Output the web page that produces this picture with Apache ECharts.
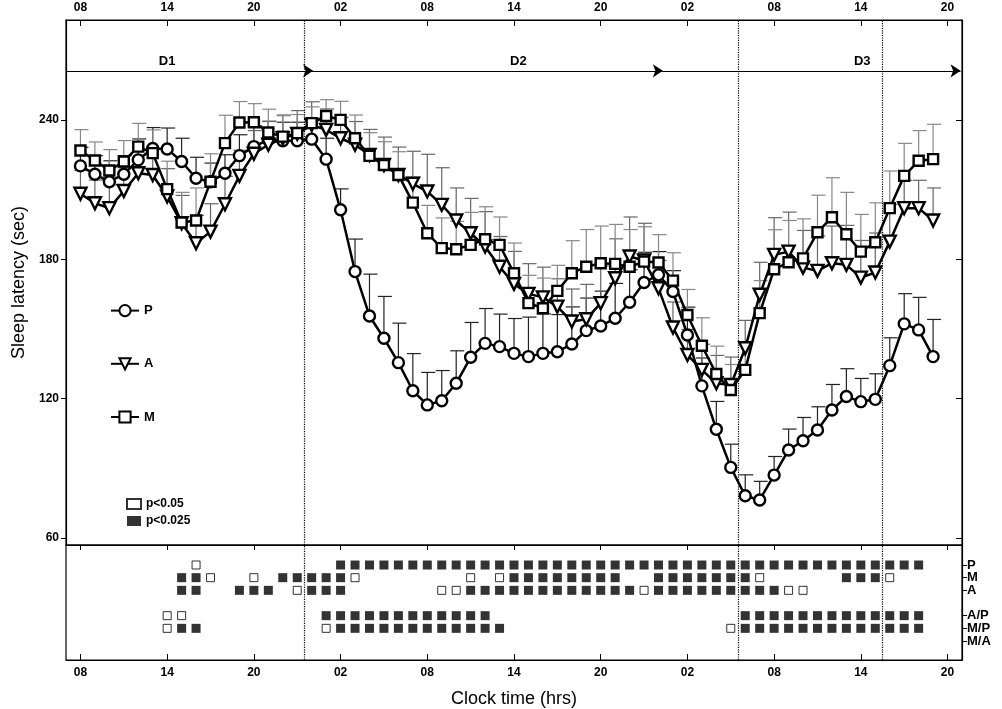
<!DOCTYPE html>
<html>
<head>
<meta charset="utf-8">
<script src="https://cdn.jsdelivr.net/npm/echarts@6/dist/echarts.min.js"></script>
<style>html,body{margin:0;padding:0;background:#fff}#main{width:1002px;height:709px}</style>
</head>
<body>
<div id="main"></div>
<script>
// hours counted from 08:00 on day 1
const tickHours = [0, 6, 12, 18, 24, 30, 36, 42, 48, 54, 60];
const tickLabels = ['08', '14', '20', '02', '08', '14', '20', '02', '08', '14', '20'];
const yTicks = [60, 120, 180, 240];

const P = [220.2, 216.6, 213.4, 216.6, 222.8, 227.7, 227.5, 222.1, 214.9, 213.4,
  217, 224.6, 228.5, 231.4, 231, 231, 231.7, 223.1, 201.3, 174.7,
  155.6, 146, 135.5, 123.4, 117.3, 119.1, 126.6, 137.8, 143.8, 142.4,
  139.5, 138.1, 139.5, 140.2, 143.5, 149.3, 151.3, 154.6, 161.5, 170,
  173.3, 166.1, 147.4, 125.5, 106.8, 90.4, 78.2, 76.4, 87.1, 97.9,
  101.9, 106.5, 115.1, 120.9, 118.7, 119.7, 134.2, 152.2, 149.6, 138.1];
const A = [208.2, 204.1, 202, 209.4, 217, 216.3, 207, 195.5, 186.9, 191.9,
  203.7, 215.9, 225.4, 229.3, 232.1, 234, 237.8, 235.7, 232.1, 229.3,
  224.9, 220.6, 216.3, 212.5, 209.2, 203.4, 196.7, 191.2, 185.5, 176.8,
  169.4, 165.1, 163.6, 159.6, 153.2, 154.2, 161.1, 171.8, 181.2, 179.5,
  167.5, 150.6, 138.8, 132.4, 126.6, 125.9, 141.7, 164.7, 181.9, 183.3,
  176.4, 175, 178.3, 177.6, 172.1, 174.3, 187.6, 202, 202, 196.7];
const M = [226.8, 222.5, 218.2, 222.1, 228.5, 225.7, 210.2, 195.8, 196.7, 213.4,
  230, 238.9, 239, 234.6, 232.8, 234.3, 238.6, 241.7, 240, 232.1,
  224.5, 220.6, 216.3, 204.4, 191.2, 184.8, 184.3, 186.2, 188.6, 186.2,
  174, 161.1, 158.9, 166.4, 174, 176.8, 178.3, 178, 176.8, 179,
  178.6, 170.8, 156, 142.8, 130.6, 123.7, 132.4, 156.8, 175.7, 178.7,
  180.4, 191.6, 198.1, 190.8, 183.3, 187.3, 202, 215.9, 222.4, 223.1];

// upper error (SE) for each series
const P_se = [8, 8, 9, 8, 9, 9, 9, 10, 9, 8, 8, 9, 9, 8, 8, 8, 8, 9, 9, 14,
  18, 18, 17, 16, 14, 13, 14, 15, 15, 14, 15, 17, 17, 16, 16, 14, 15, 15, 14, 13,
  10, 9, 12, 12, 12, 10, 9, 8, 8, 9, 10, 10, 11, 12, 10, 11, 12, 13, 14, 16];
const A_se = [10, 10, 10, 10, 10, 11, 12, 12, 12, 12, 12, 11, 10, 10, 10, 10, 10, 9, 9, 10,
  11, 12, 12, 14, 16, 16, 14, 15, 15, 13, 14, 13, 13, 12, 14, 15, 16, 17, 17, 16,
  12, 11, 11, 11, 12, 12, 12, 14, 16, 17, 16, 15, 16, 17, 16, 17, 16, 12, 12, 14];
const M_se = [9, 8, 9, 9, 10, 10, 12, 13, 14, 12, 12, 9, 8, 10, 9, 8, 7, 7, 8, 10,
  10, 10, 10, 11, 12, 13, 12, 14, 14, 12, 13, 12, 13, 11, 14, 16, 16, 17, 16, 15,
  12, 12, 11, 12, 12, 11, 12, 14, 17, 18, 17, 16, 17, 18, 16, 17, 16, 14, 13, 15];

// significance rows (bottom panel): hours with p<0.05 (open) and p<0.025 (filled)
const rowNames = ['M/A', 'M/P', 'A/P', '', 'A', 'M', 'P'];
const rowTicks = [0, 1, 2, 4, 5, 6];
const sigP_open = [8];
const sigP_fill = [18, 19, 20, 21, 22, 23, 24, 25, 26, 27, 28, 29, 30, 31, 32, 33, 34, 35, 36, 37, 38,
  39, 40, 41, 42, 43, 44, 45, 46, 47, 48, 49, 50, 51, 52, 53, 54, 55, 56, 57, 58];
const sigM_open = [9, 12, 19, 27, 29, 47, 56];
const sigM_fill = [7, 8, 14, 15, 16, 17, 18, 30, 31, 32, 33, 34, 35, 36, 37, 40, 41, 42, 43, 44, 45, 46, 53, 54, 55];
const sigA_open = [15, 25, 26, 39, 49, 50];
const sigA_fill = [7, 8, 11, 12, 13, 16, 17, 18, 27, 28, 29, 30, 31, 32, 33, 34, 35, 36, 37, 38,
  40, 41, 42, 43, 44, 45, 46, 47, 48];
const sigAP_open = [6, 7];
const sigAP_fill = [17, 18, 19, 20, 21, 22, 23, 24, 25, 26, 27, 28, 46, 47, 48, 49, 50, 51, 52, 53, 54, 55, 56, 57, 58];
const sigMP_open = [6, 17, 45];
const sigMP_fill = [7, 8, 18, 19, 20, 21, 22, 23, 24, 25, 26, 27, 28, 29, 46, 47, 48, 49, 50, 51, 52, 53, 54, 55, 56, 57, 58];

const dayNames = ['D1', 'D2', 'D3'];
const dayLabelHours = [6, 30.3, 54.1];
const dayArrows = [[-1, 16.1], [15.5, 40.3], [40.3, 60.9]];
const boundaryHours = [15.5, 45.5, 55.5];

const font = 'Liberation Sans, Arial, sans-serif';
const hours = P.map((v, i) => i);
const pair = (arr) => arr.map((v, i) => [hours[i], v]);

function errSeries(vals, se, color) {
  return {
    type: 'custom', xAxisIndex: 0, yAxisIndex: 0, silent: true, z: 1,
    data: vals.map((v, i) => [hours[i], v, v + se[i]]),
    renderItem: function (params, api) {
      const lo = api.coord([api.value(0), api.value(1)]);
      const hi = api.coord([api.value(0), api.value(2)]);
      const style = { stroke: color, lineWidth: 1.2 };
      return {
        type: 'group', children: [
          { type: 'line', shape: { x1: lo[0], y1: lo[1], x2: hi[0], y2: hi[1] }, style: style },
          { type: 'line', shape: { x1: hi[0] - 6, y1: hi[1], x2: hi[0] + 8, y2: hi[1] }, style: style }
        ]
      };
    }
  };
}

function lineSeries(name, vals, symbol, rotate, size) {
  return {
    name: name, type: 'line', xAxisIndex: 0, yAxisIndex: 0, z: 3,
    data: pair(vals), symbol: symbol, symbolSize: size, symbolRotate: rotate,
    lineStyle: { color: '#000', width: 2.5 },
    itemStyle: { color: '#fff', borderColor: '#000', borderWidth: 2.4 }
  };
}

function sigData(list, row) { return list.map(h => [h, row]); }

const chart = echarts.init(document.getElementById('main'));

const axisLine = { show: true, onZero: false, lineStyle: { color: '#000', width: 1.2 } };
const tickStyle = { color: '#000', width: 1 };
const labelStyle = { color: '#000', fontFamily: font, fontWeight: 'bold', fontSize: 12 };

const option = {
  backgroundColor: '#fff',
  animation: false,
  grid: [
    { left: 66, right: 40, top: 20, height: 525, show: true, borderColor: '#000', borderWidth: 1.2 },
    { left: 66, right: 40, top: 545, height: 115, show: true, borderColor: '#000', borderWidth: 1.2 }
  ],
  legend: [
    {
      data: ['P', 'A', 'M'], orient: 'vertical', left: 105, top: 299, itemGap: 40,
      itemWidth: 28, itemHeight: 14,
      textStyle: { fontFamily: font, fontWeight: 'bold', fontSize: 13, color: '#000' }
    },
    {
      data: ['p<0.05', 'p<0.025'], orient: 'vertical', left: 121, top: 493, itemGap: 5,
      itemWidth: 14, itemHeight: 10,
      textStyle: { fontFamily: font, fontWeight: 'bold', fontSize: 12, color: '#000' }
    }
  ],
  xAxis: [
    {
      gridIndex: 0, type: 'value', position: 'top', min: -1, max: 61,
      axisLine: axisLine, splitLine: { show: false },
      axisTick: { inside: true, length: 6, lineStyle: tickStyle, customValues: tickHours },
      axisLabel: Object.assign({ customValues: tickHours, margin: 6,
        formatter: v => tickLabels[tickHours.indexOf(v)] }, labelStyle)
    },
    {
      gridIndex: 1, type: 'value', position: 'bottom', min: -1, max: 61,
      name: 'Clock time (hrs)', nameLocation: 'middle', nameGap: 30,
      nameTextStyle: { fontFamily: font, fontSize: 18, color: '#000' },
      axisLine: axisLine, splitLine: { show: false },
      axisTick: { inside: true, length: 6, lineStyle: tickStyle, customValues: tickHours },
      axisLabel: Object.assign({ customValues: tickHours, margin: 7,
        formatter: v => tickLabels[tickHours.indexOf(v)] }, labelStyle)
    },
    {
      gridIndex: 1, type: 'value', position: 'top', min: -1, max: 61,
      axisLine: axisLine, splitLine: { show: false },
      axisTick: { inside: true, length: 5, lineStyle: tickStyle, customValues: tickHours },
      axisLabel: { show: false }
    }
  ],
  yAxis: [
    {
      gridIndex: 0, type: 'value', min: 57, max: 283,
      name: 'Sleep latency (sec)', nameLocation: 'middle', nameGap: 36,
      nameTextStyle: { fontFamily: font, fontSize: 18, color: '#000' },
      axisLine: axisLine, splitLine: { show: false },
      axisTick: { inside: false, length: 5, lineStyle: tickStyle, customValues: yTicks },
      axisLabel: Object.assign({ customValues: yTicks, margin: 7 }, labelStyle)
    },
    {
      gridIndex: 0, type: 'value', position: 'right', min: 57, max: 283,
      axisLine: axisLine, splitLine: { show: false },
      axisTick: { inside: true, length: 6, lineStyle: tickStyle, customValues: yTicks },
      axisLabel: { show: false }
    },
    {
      gridIndex: 1, type: 'value', position: 'right', min: -1.5, max: 7.58,
      axisLine: axisLine, splitLine: { show: false },
      axisTick: { inside: false, length: 5, lineStyle: tickStyle, customValues: rowTicks },
      axisLabel: { show: false }
    }
  ],
  series: [
    errSeries(P, P_se, '#222'),
    errSeries(A, A_se, '#666'),
    errSeries(M, M_se, '#888'),
    Object.assign(lineSeries('P', P, 'circle', 0, 11), {
      markLine: {
        silent: true, symbol: 'none', label: { show: false },
        lineStyle: { color: '#000', type: 'dotted', width: 1.2 },
        data: boundaryHours.map(h => ({ xAxis: h }))
      }
    }),
    Object.assign(lineSeries('A', A, 'triangle', 180, 12), {
      markLine: {
        silent: true, symbol: ['none', 'arrow'], symbolSize: [10, 10], label: { show: false },
        lineStyle: { color: '#000', type: 'solid', width: 1 },
        data: dayArrows.map(a => [{ coord: [a[0], 261.1] }, { coord: [a[1], 261.1] }])
      },
      markPoint: {
        silent: true, symbol: 'circle', symbolSize: 0,
        label: { show: true, position: 'inside', color: '#000', fontFamily: font, fontWeight: 'bold', fontSize: 13,
          formatter: p => p.name },
        data: dayNames.map((n, i) => ({ name: n, coord: [dayLabelHours[i], 265] }))
      }
    }),
    lineSeries('M', M, 'rect', 0, 10),
    {
      name: 'p<0.05', type: 'scatter', xAxisIndex: 1, yAxisIndex: 2, symbol: 'rect', symbolSize: 8,
      itemStyle: { color: '#fff', borderColor: '#000', borderWidth: 1 },
      data: [].concat(sigData(sigP_open, 6), sigData(sigM_open, 5), sigData(sigA_open, 4),
        sigData(sigAP_open, 2), sigData(sigMP_open, 1)),
      markLine: {
        silent: true, symbol: 'none', label: { show: false },
        lineStyle: { color: '#000', type: 'dotted', width: 1.2 },
        data: boundaryHours.map(h => ({ xAxis: h }))
      },
      markPoint: {
        silent: true, symbol: 'circle', symbolSize: 0,
        label: { show: true, position: 'right', distance: 5, color: '#000', fontFamily: font,
          fontWeight: 'bold', fontSize: 13, formatter: p => p.name },
        data: rowTicks.map(r => ({ name: rowNames[r], coord: [61, r] }))
      }
    },
    {
      name: 'p<0.025', type: 'scatter', xAxisIndex: 1, yAxisIndex: 2, symbol: 'rect', symbolSize: 9,
      itemStyle: { color: '#000' },
      data: [].concat(sigData(sigP_fill, 6), sigData(sigM_fill, 5), sigData(sigA_fill, 4),
        sigData(sigAP_fill, 2), sigData(sigMP_fill, 1))
    }
  ]
};

chart.setOption(option);
</script>
</body>
</html>
